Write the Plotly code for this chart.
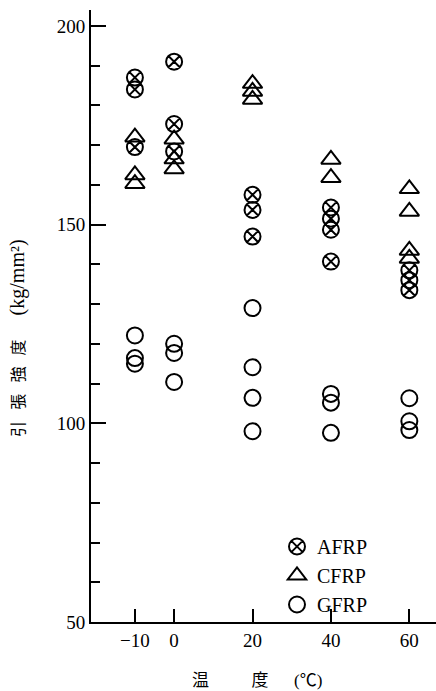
import plotly.graph_objects as go

# Tensile strength (kg/mm^2) of FRP rods at each test temperature (deg C)
afrp_temp = [-10, -10, -10, 0, 0, 0, 20, 20, 20, 40, 40, 40, 40, 60, 60, 60]
afrp_strength = [187.0, 184.0, 169.5, 191.0, 175.3, 168.4, 157.5, 153.7, 147.0,
                 154.3, 151.5, 148.7, 140.7, 138.5, 136.0, 133.5]

cfrp_temp = [-10, -10, -10, 0, 0, 0, 20, 20, 20, 40, 40, 60, 60, 60, 60]
cfrp_strength = [172.0, 162.5, 160.3, 171.5, 166.5, 164.0, 185.5, 183.5, 181.5,
                 166.4, 161.8, 159.0, 153.3, 143.5, 141.5]

gfrp_temp = [-10, -10, -10, 0, 0, 0, 20, 20, 20, 20, 40, 40, 40, 60, 60, 60]
gfrp_strength = [122.1, 116.4, 115.0, 120.0, 117.7, 110.4, 129.0, 114.1, 106.4, 98.0,
                 107.4, 105.2, 97.6, 106.3, 100.5, 98.3]

x_ticks = [-10, 0, 20, 40, 60]
x_tick_text = ["\u221210", "0", "20", "40", "60"]
y_ticks = [50, 100, 150, 200]

SERIF = "Liberation Serif, Noto Sans CJK JP, serif"

fig = go.Figure()

series = [
    ("AFRP", afrp_temp, afrp_strength, "circle-x-open", 16),
    ("CFRP", cfrp_temp, cfrp_strength, "triangle-up-open", 17),
    ("GFRP", gfrp_temp, gfrp_strength, "circle-open", 16),
]
for name, xs, ys, symbol, size in series:
    fig.add_trace(go.Scatter(
        x=xs, y=ys, mode="markers", name=name,
        marker=dict(symbol=symbol, size=size, color="black",
                    line=dict(color="black", width=2)),
    ))

fig.update_xaxes(
    range=[-21.2, 66.8], tickvals=x_ticks, ticktext=x_tick_text,
    ticks="inside", ticklen=13, tickwidth=2, tickcolor="black",
    showline=True, linecolor="black", linewidth=2,
    showgrid=False, zeroline=False,
    tickfont=dict(family=SERIF, size=19, color="black"),
)
fig.update_yaxes(
    range=[50, 204], tickvals=y_ticks,
    ticks="inside", ticklen=15, tickwidth=2, tickcolor="black",
    minor=dict(ticks="inside", ticklen=9, tickwidth=2, tickcolor="black",
               tick0=50, dtick=10, showgrid=False),
    showline=True, linecolor="black", linewidth=2,
    showgrid=False, zeroline=False,
    tickfont=dict(family=SERIF, size=19, color="black"),
)

# axis titles
fig.add_annotation(
    text=("引\u2002\u2009張\u2002\u2009強\u2002\u2009度\u2003\u2002"
          "<span style='font-size:20px'>(kg/mm\u00b2)</span>"),
    xref="paper", yref="paper", x=(17 - 91) / 345, y=(622 - 338) / 612,
    xanchor="center", yanchor="middle", textangle=-90, showarrow=False,
    font=dict(family=SERIF, size=16, color="black"),
)
fig.add_annotation(
    text="温\u3000\u3000\u2002度\u3000\u2002(℃)",
    xref="paper", yref="paper", x=(257 - 91) / 345, y=(622 - 680) / 612,
    xanchor="center", yanchor="middle", showarrow=False,
    font=dict(family=SERIF, size=17, color="black"),
)

fig.update_layout(
    width=436, height=691,
    margin=dict(l=91, r=0, t=10, b=69),
    paper_bgcolor="white", plot_bgcolor="white",
    showlegend=True,
    legend=dict(
        x=(277 - 91) / 345, y=(622 - 527) / 612, xanchor="left", yanchor="top",
        bgcolor="rgba(0,0,0,0)", borderwidth=0,
        font=dict(family=SERIF, size=20, color="black"),
    ),
)

fig.write_html("out.html")
